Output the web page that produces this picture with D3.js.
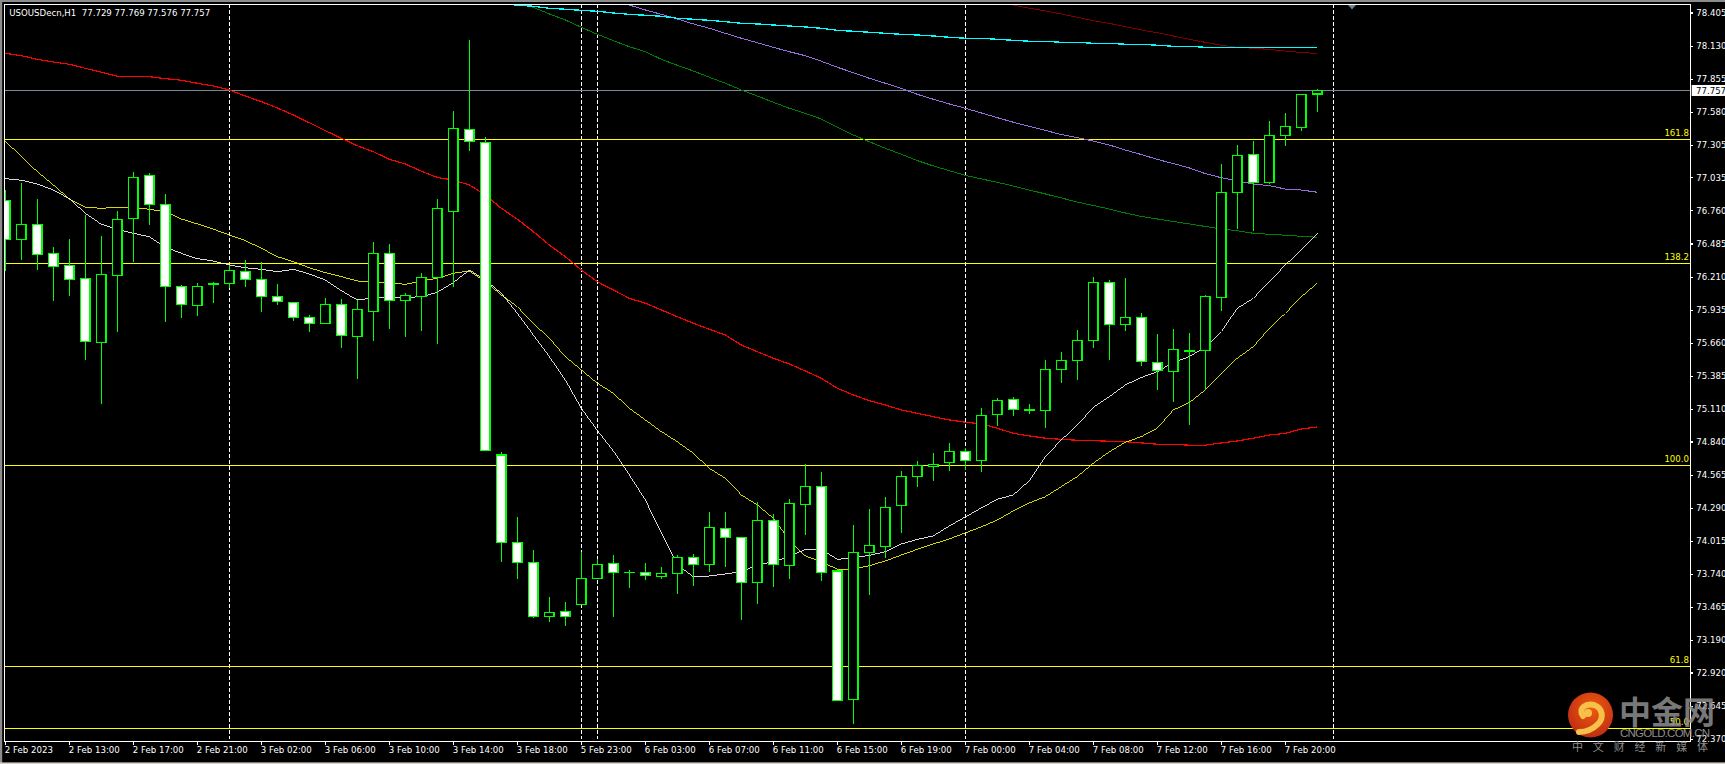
<!DOCTYPE html>
<html><head><meta charset="utf-8">
<script src="https://cdn.jsdelivr.net/npm/d3@7"></script>
<style>
html,body{margin:0;padding:0;background:#000;overflow:hidden}
svg{display:block}
text{font-family:"DejaVu Sans",sans-serif;font-size:8.6px}
line,path.ma,rect.b,rect.fr{shape-rendering:crispEdges}
</style></head><body>
<svg id="c" width="1725" height="764"></svg>
<script>
const symbolTitle = "USOUSDecn,H1  77.729 77.769 77.576 77.757";
const lastPrice = 77.757;
const priceTicks = [78.405,78.130,77.855,77.580,77.305,77.035,76.760,76.485,76.210,75.935,75.660,75.385,75.110,74.840,74.565,74.290,74.015,73.740,73.465,73.190,72.920,72.645,72.370];
const dateLabels = ["2 Feb 2023","2 Feb 13:00","2 Feb 17:00","2 Feb 21:00","3 Feb 02:00","3 Feb 06:00","3 Feb 10:00","3 Feb 14:00","3 Feb 18:00","5 Feb 23:00","6 Feb 03:00","6 Feb 07:00","6 Feb 11:00","6 Feb 15:00","6 Feb 19:00","7 Feb 00:00","7 Feb 04:00","7 Feb 08:00","7 Feb 12:00","7 Feb 16:00","7 Feb 20:00"];
const separatorBars = [14,36,37,60,83];
const fibNames = ["161.8","138.2","100.0","61.8","50.0"];
const fibLevels = [77.351,76.321,74.642,72.972,72.456];

const open = [76.845,76.520,76.645,76.404,76.304,76.196,75.664,76.221,76.695,77.052,76.811,76.130,75.972,76.145,76.155,76.255,76.188,76.047,75.997,75.872,75.822,75.980,75.714,75.922,76.404,76.012,76.043,76.201,76.750,77.435,77.326,74.726,74.002,73.836,73.384,73.429,73.487,73.703,73.828,73.749,73.753,73.720,73.745,73.878,73.820,74.119,74.044,73.670,74.185,73.811,74.318,74.468,73.762,72.695,73.919,73.969,74.310,74.549,74.634,74.667,74.759,74.684,75.066,75.191,75.108,75.099,75.440,75.515,75.681,76.163,75.814,75.872,75.498,75.424,75.588,75.598,76.037,76.911,77.227,76.994,77.385,77.451,77.729];
const high = [76.930,76.988,76.855,76.456,76.523,76.722,76.548,76.756,77.080,77.071,76.897,76.141,76.155,76.166,76.307,76.348,76.329,76.149,75.997,75.891,76.033,76.022,76.016,76.498,76.481,76.072,76.240,76.855,77.587,78.180,77.371,74.753,74.213,73.938,73.548,73.506,73.922,73.864,73.897,73.772,73.830,73.797,73.897,73.905,74.254,74.254,74.047,74.337,74.238,74.362,74.651,74.587,73.764,74.146,74.279,74.379,74.595,74.678,74.745,74.828,74.786,75.119,75.202,75.210,75.152,75.517,75.584,75.767,76.207,76.182,76.199,75.905,75.733,75.775,75.742,76.058,77.146,77.304,77.337,77.503,77.570,77.728,77.769];
const low = [76.259,76.348,76.265,76.010,76.049,75.517,75.152,75.750,76.332,76.639,75.833,75.866,75.883,75.991,76.113,76.124,75.916,75.974,75.841,75.750,75.822,75.617,75.360,75.675,75.775,75.709,75.761,75.653,76.127,77.257,74.767,73.839,73.698,73.376,73.340,73.307,73.487,73.698,73.382,73.623,73.689,73.698,73.575,73.639,73.756,73.797,73.357,73.490,73.631,73.698,74.063,73.681,72.686,72.494,73.565,73.872,74.080,74.462,74.512,74.595,74.603,74.587,74.969,75.052,75.069,74.952,75.326,75.351,75.617,75.517,75.758,75.468,75.268,75.168,74.977,75.268,75.927,76.609,76.589,76.982,77.296,77.423,77.576];
const close = [76.520,76.645,76.396,76.293,76.188,75.673,76.230,76.687,77.036,76.811,76.130,75.980,76.130,76.153,76.263,76.188,76.047,76.005,75.872,75.822,75.980,75.723,75.939,76.404,76.014,76.055,76.205,76.778,77.443,77.335,74.767,74.002,73.836,73.384,73.421,73.384,73.703,73.820,73.753,73.753,73.728,73.745,73.878,73.820,74.127,74.044,73.670,74.185,73.820,74.327,74.468,73.753,72.686,73.919,73.978,74.293,74.551,74.642,74.651,74.759,74.684,75.058,75.183,75.108,75.098,75.440,75.515,75.681,76.163,75.814,75.872,75.507,75.432,75.606,75.596,76.047,76.911,77.218,76.994,77.385,77.459,77.725,77.757];

const whiteMA = [77.024,77.011,76.980,76.930,76.858,76.736,76.645,76.604,76.570,76.542,76.454,76.404,76.359,76.340,76.307,76.284,76.271,76.251,76.271,76.232,76.182,76.093,76.016,76.033,76.035,76.037,76.043,76.080,76.160,76.265,76.182,76.072,75.905,75.725,75.545,75.351,75.116,74.931,74.761,74.562,74.354,74.080,73.814,73.717,73.722,73.739,73.758,73.814,73.841,73.883,73.944,73.944,73.861,73.872,73.894,73.924,73.988,74.027,74.055,74.138,74.213,74.288,74.360,74.396,74.514,74.714,74.853,74.977,75.123,75.212,75.310,75.372,75.420,75.497,75.545,75.625,75.754,75.947,76.030,76.168,76.307,76.431,76.570];
const yellowMA = [77.337,77.207,77.082,76.972,76.855,76.786,76.778,76.786,76.786,76.770,76.750,76.689,76.648,76.604,76.556,76.509,76.446,76.376,76.334,76.284,76.243,76.210,76.174,76.168,76.160,76.146,76.174,76.196,76.238,76.257,76.168,76.058,75.960,75.822,75.698,75.545,75.434,75.324,75.241,75.116,75.019,74.922,74.838,74.742,74.617,74.534,74.396,74.312,74.202,74.022,73.889,73.841,73.778,73.778,73.808,73.847,73.897,73.944,73.988,74.030,74.080,74.130,74.188,74.263,74.329,74.381,74.465,74.548,74.659,74.755,74.834,74.880,74.950,75.102,75.163,75.268,75.407,75.532,75.628,75.781,75.905,76.043,76.155];
const redMA = [78.066,78.046,78.016,77.994,77.975,77.941,77.908,77.875,77.875,77.872,77.855,77.842,77.817,77.794,77.761,77.711,77.664,77.612,77.553,77.489,77.423,77.360,77.298,77.248,77.185,77.146,77.086,77.034,77.013,76.972,76.889,76.778,76.687,76.584,76.473,76.376,76.265,76.168,76.099,76.030,75.989,75.933,75.877,75.822,75.773,75.725,75.642,75.586,75.532,75.484,75.426,75.365,75.282,75.227,75.179,75.143,75.102,75.074,75.046,75.019,75.000,74.986,74.950,74.908,74.886,74.867,74.858,74.850,74.847,74.842,74.838,74.828,74.817,74.817,74.809,74.809,74.828,74.844,74.867,74.894,74.908,74.944,74.961];
const cyanStart = 31;
const cyanMA = [78.480,78.465,78.457,78.440,78.432,78.423,78.415,78.401,78.390,78.382,78.374,78.357,78.349,78.340,78.329,78.315,78.310,78.301,78.293,78.285,78.274,78.257,78.249,78.241,78.232,78.224,78.218,78.210,78.199,78.191,78.191,78.182,78.174,78.166,78.166,78.157,78.157,78.149,78.149,78.141,78.141,78.133,78.124,78.124,78.116,78.116,78.116,78.116,78.116,78.113,78.113,78.113];
const purpleStart = 39;
const purpleMA = [78.467,78.426,78.390,78.351,78.310,78.274,78.232,78.191,78.154,78.116,78.079,78.046,78.000,77.950,77.905,77.858,77.817,77.775,77.725,77.684,77.645,77.609,77.570,77.531,77.493,77.459,77.425,77.391,77.365,77.337,77.304,77.262,77.225,77.184,77.150,77.113,77.066,77.032,77.005,76.980,76.966,76.938,76.930,76.911];
const greenStart = 32;
const greenMA = [78.500,78.448,78.393,78.343,78.282,78.224,78.171,78.121,78.079,78.016,77.966,77.919,77.867,77.817,77.761,77.711,77.659,77.609,77.567,77.520,77.451,77.387,77.331,77.277,77.227,77.174,77.130,77.090,77.052,77.022,76.994,76.963,76.930,76.897,76.864,76.830,76.801,76.772,76.739,76.710,76.689,76.668,76.648,76.627,76.606,76.592,76.570,76.562,76.554,76.545,76.537];
const maroonStart = 63;
const maroonMA = [78.467,78.440,78.418,78.393,78.365,78.337,78.315,78.287,78.260,78.237,78.210,78.182,78.157,78.133,78.116,78.108,78.098,78.085,78.073,78.064];

const svg = d3.select("#c");
const frame = {l:4.3, t:4.3, r:1690.3, b:741.3};
const x = d3.scaleLinear().domain([0,82]).range([5.33,1317.33]);
const y = d3.scaleLinear().domain([72.370,78.405]).range([738.7,12.5]);

// window chrome
svg.append("rect").attr("width",1725).attr("height",764).attr("fill","#000");
svg.append("rect").attr("width",2.2).attr("height",764).attr("fill","#8c8c8c");
svg.append("rect").attr("width",1725).attr("height",2).attr("fill","#8c8c8c");
svg.append("rect").attr("y",762.4).attr("width",1725).attr("height",1.6).attr("fill","#d4d0c8");

const defs = svg.append("defs");
defs.append("clipPath").attr("id","plot").append("rect")
  .attr("x",frame.l).attr("y",frame.t).attr("width",frame.r-frame.l).attr("height",frame.b-frame.t);
const plot = svg.append("g").attr("clip-path","url(#plot)");

// period separators
plot.selectAll("line.sep").data(separatorBars).join("line").attr("class","sep")
  .attr("x1",d=>x(d)).attr("x2",d=>x(d)).attr("y1",frame.t).attr("y2",frame.b-2)
  .attr("stroke","#fff").attr("stroke-width",1.2).attr("stroke-dasharray","4 2");

// fib levels
plot.selectAll("line.fib").data(fibLevels).join("line").attr("class","fib")
  .attr("x1",frame.l).attr("x2",frame.r).attr("y1",d=>y(d)).attr("y2",d=>y(d))
  .attr("stroke","#ffff00").attr("stroke-width",1.3);
svg.selectAll("text.fib").data(fibLevels).join("text").attr("class","fib")
  .attr("x",1689).attr("y",d=>y(d)-3).attr("text-anchor","end").attr("fill","#ffff00")
  .text((d,i)=>fibNames[i]);

// last price line
plot.append("line").attr("x1",frame.l).attr("x2",frame.r).attr("y1",y(lastPrice)).attr("y2",y(lastPrice))
  .attr("stroke","#778899").attr("stroke-width",1.3);

// moving averages
function ma(values,start,color,w){
  const line = d3.line().x((d,i)=>x(i+start)).y(d=>y(d));
  plot.append("path").attr("class","ma").attr("d",line(values)).attr("fill","none").attr("stroke",color).attr("stroke-width",w);
}
ma(maroonMA,maroonStart,"#800000",1);
ma(greenMA,greenStart,"#008000",1);
ma(purpleMA,purpleStart,"#9370db",1);
ma(cyanMA,cyanStart,"#00ffff",1.3);
ma(redMA,0,"#ff0000",1.2);
ma(yellowMA,0,"#ffff00",0.85);
ma(whiteMA,0,"#ffffff",0.85);

// candles
const bars = d3.range(open.length);
const g = plot.append("g");
g.selectAll("line.w").data(bars).join("line").attr("class","w")
  .attr("x1",i=>x(i)).attr("x2",i=>x(i)).attr("y1",i=>y(high[i])).attr("y2",i=>y(low[i]))
  .attr("stroke","#00ff00").attr("stroke-width",1.2);
g.selectAll("rect.b").data(bars).join("rect").attr("class","b")
  .attr("x",i=>x(i)-4.7).attr("width",9.4)
  .attr("y",i=>y(Math.max(open[i],close[i])))
  .attr("height",i=>Math.abs(y(open[i])-y(close[i])))
  .attr("fill",i=>close[i]<open[i]?"#fff":"#000")
  .attr("stroke","#00ff00").attr("stroke-width",1.4);

// frame
svg.append("rect").attr("class","fr").attr("x",frame.l).attr("y",frame.t).attr("width",frame.r-frame.l).attr("height",frame.b-frame.t)
  .attr("fill","none").attr("stroke","#fff").attr("stroke-width",1.3);

// shift marker
svg.append("path").attr("d",d3.line()([[1348,4.9],[1356,4.9],[1352,9.5]])+"Z").attr("fill","#708090");

// axes
const yAxis = d3.axisRight(y).tickValues(priceTicks).tickSize(3).tickPadding(3).tickFormat(d3.format(".3f"));
const ya = svg.append("g").attr("transform",`translate(${frame.r},0)`).call(yAxis);
const xTicks = dateLabels.map((_,i)=>i*4);
const xAxis = d3.axisBottom(x).tickValues(xTicks).tickSize(4).tickPadding(2).tickFormat((d,i)=>dateLabels[i]);
const xa = svg.append("g").attr("transform",`translate(0,${frame.b})`).call(xAxis);
[ya,xa].forEach(a=>{
  a.select(".domain").remove();
  a.selectAll("line").attr("stroke","#fff").attr("stroke-width",1.1);
  a.selectAll("text").attr("fill","#fff").style("font-family",'"DejaVu Sans",sans-serif').style("font-size","8.6px");
});
xa.selectAll("text").attr("text-anchor","start").attr("dx","-1");

// last price tag
svg.append("rect").attr("x",1691.7).attr("y",y(lastPrice)-5.5).attr("width",33.3).attr("height",11).attr("fill","#fff");
svg.append("text").attr("x",1696).attr("y",y(lastPrice)+3.2).attr("fill","#000").text(lastPrice.toFixed(3));

// title
svg.append("text").attr("x",9.3).attr("y",15.8).attr("fill","#fff").attr("xml:space","preserve").style("white-space","pre").text(symbolTitle);

// watermark
const grad = defs.append("radialGradient").attr("id","logo").attr("cx","55%").attr("cy","35%").attr("r","70%");
grad.append("stop").attr("offset","0%").attr("stop-color","#ee5a10");
grad.append("stop").attr("offset","100%").attr("stop-color","#bb2a12");
const wm = svg.append("g");
wm.append("circle").attr("cx",1590.5).attr("cy",715).attr("r",22.5).attr("fill","url(#logo)");
wm.append("path").attr("fill","none").attr("stroke","#f7c048").attr("stroke-width",6).attr("stroke-linecap","round")
  .attr("d","M1583 716 C1578 708 1586 703 1594 705 C1603 708 1604 718 1598 724 C1593 729 1586 732 1579 732");
wm.append("circle").attr("cx",1588).attr("cy",713).attr("r",4).attr("fill","#f7c048");
wm.append("text").attr("x",1619).attr("y",724).attr("fill","#8d8d8d").attr("opacity",.85)
  .style("font-family",'"Noto Sans CJK SC"').style("font-weight",700).style("font-size","32px").text("中金网");
wm.append("text").attr("x",1620).attr("y",737).attr("fill","#8d8d8d")
  .style("font-family",'"Liberation Sans"').style("font-size","11.5px").attr("textLength",90).text("CNGOLD.COM.CN");
wm.append("text").attr("x",1572).attr("y",750.5).attr("fill","#8d8d8d")
  .style("font-family",'"Noto Sans CJK SC"').style("font-size","11px").attr("textLength",136).text("中文财经新媒体");
</script>
</body></html>
